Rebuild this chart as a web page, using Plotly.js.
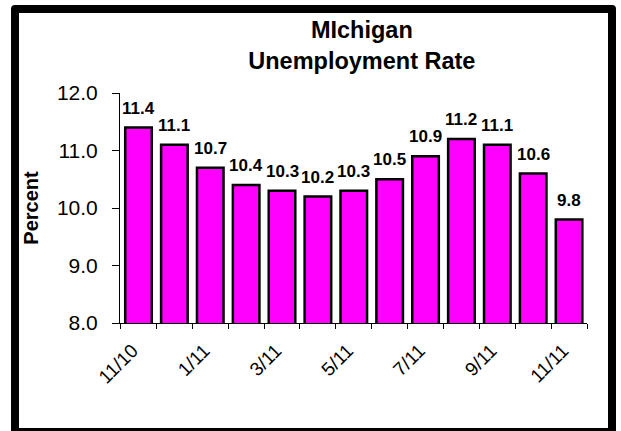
<!DOCTYPE html>
<html>
<head>
<meta charset="utf-8">
<script src="https://cdn.plot.ly/plotly-3.0.1.min.js"></script>
<style>
  html, body { margin: 0; padding: 0; background: #fff; }
  #wrap { position: relative; width: 621px; height: 431px; overflow: hidden; }
  #chart { position: absolute; left: 0; top: 0; width: 621px; height: 431px; }
  #frame { position: absolute; left: 11px; top: 5px; width: 605px; height: 431px;
           border: 8px solid #000; box-sizing: border-box; border-radius: 4px; pointer-events: none; }
</style>
</head>
<body>
<div id="wrap">
  <div id="chart"></div>
  <div id="frame"></div>
</div>
<script>
const months = ["11/10", "12/10", "1/11", "2/11", "3/11", "4/11", "5/11", "6/11", "7/11", "8/11", "9/11", "10/11", "11/11"];
const rates = [11.4, 11.1, 10.7, 10.4, 10.3, 10.2, 10.3, 10.5, 10.9, 11.2, 11.1, 10.6, 9.8];
const titleText = "MIchigan<br>Unemployment Rate";
const yTitle = "Percent";

const FONT = '"Liberation Sans", Arial, sans-serif';

const trace = {
  type: 'bar',
  x: months,
  y: rates,
  marker: { color: '#FF00FF', line: { color: '#000000', width: 2.5 } },
  hoverinfo: 'x+y'
};

const labels = months.map((m, i) => ({
  x: m, y: rates[i], xref: 'x', yref: 'y',
  text: '<b>' + rates[i].toFixed(1) + '</b>',
  showarrow: false, yanchor: 'bottom', yshift: 8,
  font: { family: FONT, size: 17, color: '#000' }
}));

const layout = {
  width: 621, height: 431,
  margin: { l: 120, r: 34, t: 93, b: 108 },
  paper_bgcolor: '#ffffff', plot_bgcolor: '#ffffff',
  showlegend: false,
  bargap: 0.26,
  font: { family: FONT, color: '#000' },
  title: {
    text: '<b>' + titleText + '</b>',
    font: { family: FONT, size: 23.5, color: '#000' },
    x: 0.5827, xref: 'container', xanchor: 'center',
    y: 1 - 38 / 431, yref: 'container', yanchor: 'top'
  },
  xaxis: {
    type: 'category',
    showline: true, linecolor: '#000', linewidth: 1,
    ticks: 'outside', ticklen: 5, tickcolor: '#000', tickwidth: 1,
    tickson: 'boundaries',
    ticklabelstep: 2,
    tickangle: -45,
    ticklabelstandoff: 8,
    ticklabelshift: -6,
    tickfont: { family: FONT, size: 19, color: '#000' },
    showgrid: false, zeroline: false, automargin: false
  },
  yaxis: {
    range: [8, 12], dtick: 1, tick0: 8, tickformat: '.1f',
    showline: true, linecolor: '#000', linewidth: 1,
    ticks: 'outside', ticklen: 7, tickcolor: '#000', tickwidth: 1,
    ticklabelstandoff: 10,
    tickfont: { family: FONT, size: 21, color: '#000' },
    showgrid: false, zeroline: false, automargin: false,
    title: { text: '<b>' + yTitle + '</b>', font: { family: FONT, size: 20, color: '#000' }, standoff: 12 }
  },
  annotations: labels
};

Plotly.newPlot('chart', [trace], layout, { staticPlot: true, displayModeBar: false });
</script>
</body>
</html>
